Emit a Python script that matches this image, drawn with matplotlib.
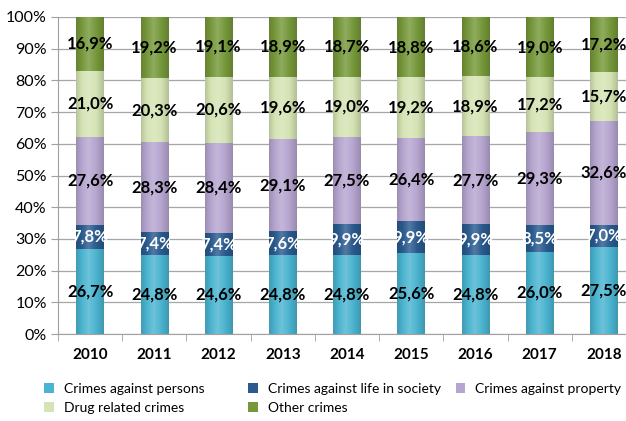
import numpy as np
import matplotlib
matplotlib.use("Agg")
import matplotlib.pyplot as plt
from matplotlib.colors import to_rgb

years = ["2010", "2011", "2012", "2013", "2014", "2015", "2016", "2017", "2018"]
categories = ["Crimes against persons", "Crimes against life in society",
              "Crimes against property", "Drug related crimes", "Other crimes"]
persons = [26.7, 24.8, 24.6, 24.8, 24.8, 25.6, 24.8, 26.0, 27.5]
life_society = [7.8, 7.4, 7.4, 7.6, 9.9, 9.9, 9.9, 8.5, 7.0]
prop = [27.6, 28.3, 28.4, 29.1, 27.5, 26.4, 27.7, 29.3, 32.6]
drugs = [21.0, 20.3, 20.6, 19.6, 19.0, 19.2, 18.9, 17.2, 15.7]
other = [16.9, 19.2, 19.1, 18.9, 18.7, 18.8, 18.6, 19.0, 17.2]

series = [persons, life_society, prop, drugs, other]
colors = ["#4bb4d0", "#2a5a8e", "#b6a5cf", "#d5e4b4", "#76983a"]
label_colors = ["black", "white", "black", "black", "black"]

plt.rcParams["font.family"] = ["Lato", "DejaVu Sans"]

fig = plt.figure(figsize=(6.26, 4.21), dpi=100)
ax = fig.add_axes([58 / 626, 1 - 334 / 421, 578 / 626, 317 / 421])

x = np.arange(len(years))
width = 0.43
bottom = np.zeros(len(years))
handles = []


def shade(c, f):
    r = np.array(to_rgb(c))
    return np.clip(r * f if f < 1 else r + (1 - r) * (f - 1), 0, 1)


for vals, col, lc, name in zip(series, colors, label_colors, categories):
    vals = np.array(vals)
    bars = ax.bar(x, vals, width, bottom=bottom, color=col, label=name, zorder=2)
    handles.append(bars)
    # horizontal gradient to mimic the bevelled look
    t = np.linspace(0, 1, 64)
    prof = np.where(t < 0.45, 0.86 + 0.3 * (t / 0.45), 1.16 - 0.32 * ((t - 0.45) / 0.55))
    grad = np.array([shade(col, f) if f < 1 else shade(col, 1 + (f - 1) * 1.2) for f in prof])[None, :, :]
    for b in bars:
        x0, y0 = b.get_x(), b.get_y()
        im = ax.imshow(grad, extent=(x0, x0 + b.get_width(), y0, y0 + b.get_height()),
                       aspect="auto", zorder=2.1, interpolation="bilinear")
        im.set_clip_path(b)
    for xi, b0, v in zip(x, bottom, vals):
        ax.text(xi, b0 + v / 2, f"{v:.1f}%".replace(".", ","), ha="center", va="center",
                fontsize=12, fontweight="bold", color=lc, zorder=4)
    bottom += vals

ax.set_xlim(-0.5, len(years) - 0.5)
ax.set_ylim(0, 100)
ax.set_yticks(np.arange(0, 101, 10))
ax.set_yticklabels([f"{v}%" for v in range(0, 101, 10)], fontsize=11.5)
ax.set_xticks(x)
ax.set_xticklabels(years, fontsize=11, fontweight="bold")
ax.set_xticks(np.arange(-0.5, len(years)), minor=True)
ax.tick_params(axis="x", which="major", length=0, pad=10)
ax.tick_params(axis="x", which="minor", length=5, color="#a0a0a0")
ax.tick_params(axis="y", length=5, color="#a0a0a0", pad=3)
ax.grid(axis="y", color="#a6a6a6", linewidth=0.9, zorder=0)
ax.set_axisbelow(True)
for s in ["top", "right"]:
    ax.spines[s].set_visible(False)
for s in ["left", "bottom"]:
    ax.spines[s].set_color("#a0a0a0")

# legend laid out in three columns like the original
cols = [([0, 3], 0.050), ([1, 4], 0.376), ([2], 0.708)]
for idx, xpos in cols:
    fig.legend([handles[i] for i in idx], [categories[i] for i in idx],
               loc="upper left", bbox_to_anchor=(xpos, 0.121), ncol=1, frameon=False,
               fontsize=10, handlelength=0.7, handleheight=0.7,
               handletextpad=0.72, labelspacing=0.5)

fig.savefig("out.png", dpi=100)
